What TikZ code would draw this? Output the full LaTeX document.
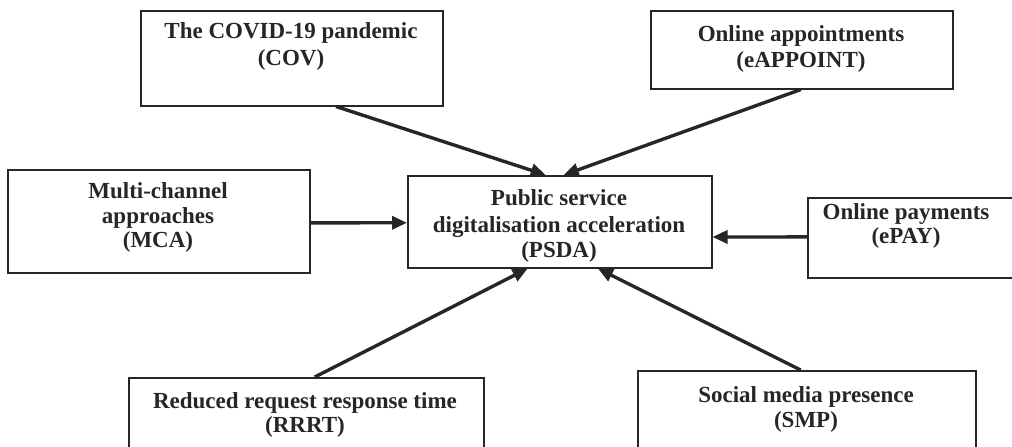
\documentclass[tikz,border=0pt]{standalone}
\usepackage{fontspec}
\setmainfont{Liberation Serif}
\usetikzlibrary{arrows.meta,calc}
\begin{document}
\begin{tikzpicture}[x=1pt,y=-1pt,
  box/.style={draw=black!85, line width=1.5pt, inner sep=0pt, anchor=north west, fill=white},
  conn/.style={line width=3.4pt, draw=black!85, -{Triangle[length=15pt,width=13pt]}},
  txt/.style={anchor=base, font=\bfseries\fontsize{23}{27}\selectfont, inner sep=0pt, text=black!85}]
\useasboundingbox (0,0) rectangle (1012,447);
% boxes
\node[box, minimum width=304pt, minimum height=92pt] (psda) at (407,175) {};
\node[box, minimum width=302pt, minimum height=95pt] (cov) at (140,10) {};
\node[box, minimum width=302pt, minimum height=78pt] (eap) at (650,10) {};
\node[box, minimum width=302pt, minimum height=103pt] (mca) at (7,169) {};
\node[box, minimum width=220pt, minimum height=80pt] (epay) at (807,197) {};
\node[box, minimum width=355pt, minimum height=100pt] (rrrt) at (128,377) {};
\node[box, minimum width=338pt, minimum height=100pt] (smp) at (637,370) {};
% texts
\node[txt] (cov1) at (291,38) {The COVID-19 pandemic};
\node[txt] (cov2) at (291,65) {(COV)};
\node[txt] (eap1) at (801,41) {Online appointments};
\node[txt] (eap2) at (801,67) {(eAPPOINT)};
\node[txt] (mca1) at (158,198) {Multi-channel};
\node[txt] (mca2) at (158,223) {approaches};
\node[txt] (mca3) at (158,247) {(MCA)};
\begin{scope}
\clip (psda.north west) rectangle (psda.south east);
\node[txt] (psda1) at (559,205) {Public service};
\node[txt] (psda2) at (559,232) {digitalisation acceleration};
\node[txt] (psda3) at (559,257) {(PSDA)};
\end{scope}
\node[txt] (epay1) at (906,219) {Online payments};
\node[txt] (epay2) at (906,243) {(ePAY)};
\node[txt] (rrrt1) at (305,408) {Reduced request response time};
\node[txt] (rrrt2) at (305,432) {(RRRT)};
\node[txt] (smp1) at (806,402) {Social media presence};
\node[txt] (smp2) at (806,427) {(SMP)};
% connectors
\draw[conn] ($(cov.south west)!0.646!(cov.south east)$) -- ($(psda.north west)!0.454!(psda.north east)$);
\draw[conn] ($(eap.south west)!0.497!(eap.south east)$) -- ($(psda.north west)!0.513!(psda.north east)$);
\draw[conn] ($(mca.north east)!0.515!(mca.south east)$) -- ($(psda.north west)!0.511!(psda.south west)$);
\draw[conn] ($(epay.north west)!0.49!(epay.south west)$) -- ($(psda.north east)!0.663!(psda.south east)$);
\draw[conn] ($(rrrt.north west)!0.524!(rrrt.north east)$) -- ($(psda.south west)!0.395!(psda.south east)$);
\draw[conn] ($(smp.north west)!0.482!(smp.north east)$) -- ($(psda.south west)!0.625!(psda.south east)$);
\end{tikzpicture}
\end{document}
